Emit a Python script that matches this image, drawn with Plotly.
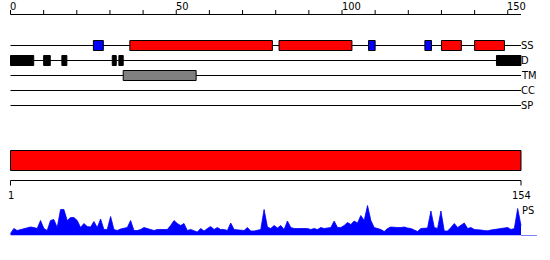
import plotly.graph_objects as go

# ---------------- data ----------------
seq_len = 154
top_tick_values = [0, 10, 20, 30, 40, 50, 60, 70, 80, 90, 100, 110, 120, 130, 140, 150]
top_tick_labels = ["0", "", "", "", "", "50", "", "", "", "", "100", "", "", "", "", "150"]
track_names = ["SS", "D", "TM", "CC", "SP"]

ss_helix = [(36, 79), (81, 103), (130, 136), (140, 149)]
ss_strand = [(25, 28), (108, 110), (125, 127)]
disorder = [(0, 7), (10, 12), (15.5, 17), (30.7, 31.9), (32.7, 34), (146.6, 154)]
transmembrane = [(34, 56)]
coiled_coil = []
signal_peptide = []
domains = [(0, 154)]
bottom_labels = ["1", "154"]

ps_values = [
    2, 7, 5, 6, 7, 8, 8.5, 8, 7, 15,
    7, 5, 15, 16, 8, 26, 26, 15, 18, 18,
    15, 8, 12, 9, 8.5, 14, 8, 16.5, 6, 6,
    19, 6, 5, 6.5, 7, 8, 15, 5, 5, 6,
    8, 7, 6, 5, 6, 6, 6, 6, 10, 15,
    12, 10, 12, 5, 6, 4.5, 3.5, 7, 4.5, 7,
    9, 6, 8, 6, 6, 5, 12.5, 6, 5.5, 5,
    5, 8, 4.5, 4.5, 5, 6, 26, 8.5, 7, 10,
    7.5, 10, 6, 14.5, 8, 7, 7, 7, 7, 7,
    6, 7, 6, 8, 7, 7.5, 8, 14.5, 8, 8,
    10, 13, 11, 14.5, 12.5, 20, 15, 30, 15, 8,
    7, 6, 4, 7, 8.5, 8, 8, 8, 8.5, 7.5,
    7, 5.5, 4, 7, 7, 7.5, 24.5, 8, 7, 24.5,
    4.5, 4.5, 8, 12, 8, 10.5, 12.5, 7, 8, 6,
    6, 5.5, 5, 4.7, 5.5, 6, 7, 7, 7.5, 8,
    6, 7, 27, 10,
]
ps_tail = 4.8  # baseline continues past the sequence end

# ---------------- layout constants (pixels) ----------------
W, H = 550, 260
X0_PX = 10.5
PX_PER_UNIT = 3.315
FONT = "DejaVu Sans Condensed, DejaVu Sans"
FS = 11

axis_y = 14.5
tick_top = 10
track_y = [45.5, 60.5, 75.5, 90.5, 105.5]
box_half = 5
domain_y = (150.5, 170.5)
bottom_axis_y = 180.5
ps_base_px = 235.5
ps_top_px = 200.5

fig = go.Figure()

# PS profile
n = len(ps_values)
ps_x = [i * seq_len / (n - 1) for i in range(n)]
fig.add_trace(go.Scatter(
    x=ps_x, y=ps_values, mode="lines", fill="tozeroy",
    line=dict(color="#0000FF", width=0.8), fillcolor="#0000FF",
    xaxis="x", yaxis="y2", hoverinfo="skip", showlegend=False))
fig.add_trace(go.Scatter(
    x=[seq_len, seq_len + ps_tail], y=[0, 0], mode="lines",
    line=dict(color="#0000FF", width=1),
    xaxis="x", yaxis="y2", hoverinfo="skip", showlegend=False))

shapes = []
annotations = []

def hline(x0, x1, y, color="black"):
    shapes.append(dict(type="line", xref="x", yref="y", x0=x0, x1=x1, y0=y, y1=y,
                       line=dict(color=color, width=1)))

def vline(x, y0, y1):
    shapes.append(dict(type="line", xref="x", yref="y", x0=x, x1=x, y0=y0, y1=y1,
                       line=dict(color="black", width=1)))

def box(x0, x1, y0, y1, fill):
    shapes.append(dict(type="rect", xref="x", yref="y", x0=x0, x1=x1, y0=y0, y1=y1,
                       fillcolor=fill, line=dict(color="black", width=1)))

# top axis
hline(0, seq_len, axis_y)
for v, lab in zip(top_tick_values, top_tick_labels):
    vline(v, tick_top, axis_y)
    if lab:
        annotations.append(dict(x=v, y=6, xref="x", yref="y", text=lab, showarrow=False,
                                xanchor="left", yanchor="middle", xshift=-2.5,
                                font=dict(family=FONT, size=FS, color="black")))

# track lines and labels
for name, y in zip(track_names, track_y):
    hline(0, seq_len, y)
    annotations.append(dict(x=seq_len, y=y, xref="x", yref="y", text=name, showarrow=False,
                            xanchor="left", yanchor="middle", xshift=-2.5,
                            font=dict(family=FONT, size=FS, color="black")))

track_features = [
    (0, ss_strand, "#0000FF"),
    (0, ss_helix, "#FF0000"),
    (1, disorder, "#000000"),
    (2, transmembrane, "#808080"),
    (3, coiled_coil, "#00AA00"),
    (4, signal_peptide, "#FFA500"),
]
for ti, feats, col in track_features:
    y = track_y[ti]
    for a, b in feats:
        box(a, b, y - box_half, y + box_half, col)

# domain bar
for a, b in domains:
    box(a, b, domain_y[0], domain_y[1], "#FF0000")

# bottom axis
hline(0, seq_len, bottom_axis_y)
vline(0, bottom_axis_y, bottom_axis_y + 5)
vline(seq_len, bottom_axis_y, bottom_axis_y + 5)
for xv, lab in zip([0, seq_len], bottom_labels):
    annotations.append(dict(x=xv, y=195.5, xref="x", yref="y", text=lab, showarrow=False,
                            xanchor="center", yanchor="middle",
                            font=dict(family=FONT, size=FS, color="black")))

# PS label
annotations.append(dict(x=seq_len, y=210.5, xref="x", yref="y", text="PS", showarrow=False,
                        xanchor="left", yanchor="middle", xshift=-1.5,
                        font=dict(family=FONT, size=FS, color="black")))

ps_range = ps_base_px - ps_top_px
fig.update_layout(
    width=W, height=H, margin=dict(l=0, r=0, t=0, b=0),
    paper_bgcolor="white", plot_bgcolor="white",
    showlegend=False,
    xaxis=dict(range=[-X0_PX / PX_PER_UNIT, (W - X0_PX) / PX_PER_UNIT], visible=False,
               fixedrange=True),
    yaxis=dict(range=[H, 0], visible=False, domain=[0, 1], fixedrange=True),
    yaxis2=dict(range=[0, ps_range], visible=False, anchor="x", overlaying=None,
                domain=[(H - ps_base_px) / H, (H - ps_top_px) / H], fixedrange=True),
    shapes=shapes, annotations=annotations,
)

fig.write_html("out.html", config={"displayModeBar": False})
